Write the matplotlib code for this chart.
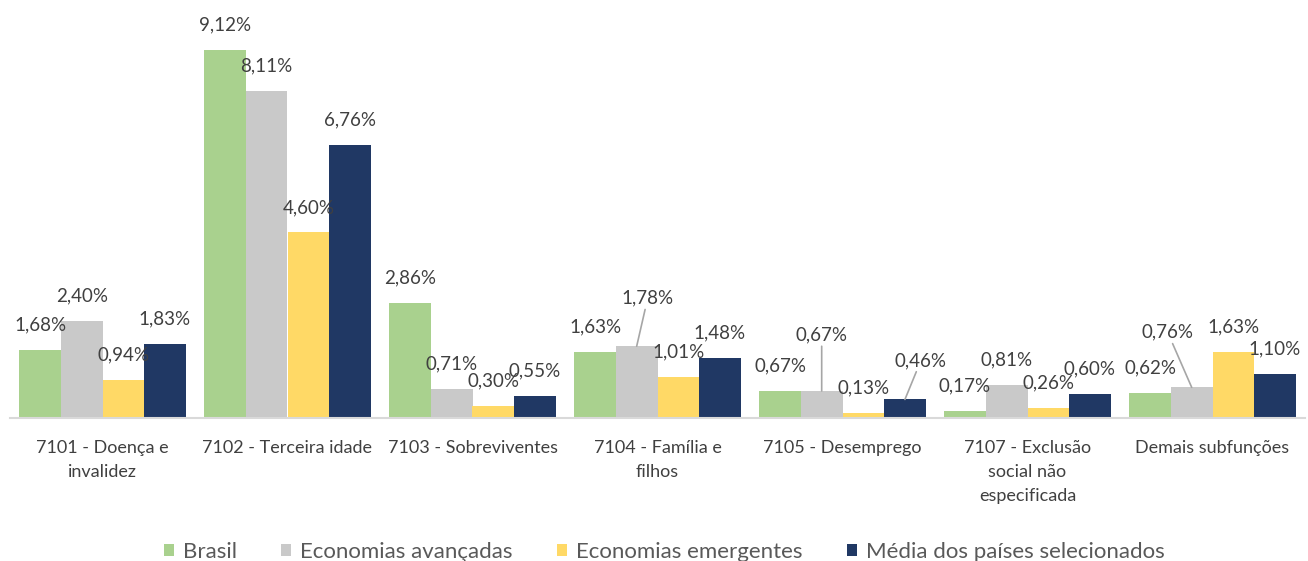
import matplotlib.pyplot as plt
import numpy as np

categorias = ['7101 - Doença e\ninvalidez', '7102 - Terceira idade', '7103 - Sobreviventes',
              '7104 - Família e\nfilhos', '7105 - Desemprego',
              '7107 - Exclusão\nsocial não\nespecificada', 'Demais subfunções']
series = ['Brasil', 'Economias avançadas', 'Economias emergentes', 'Média dos países selecionados']
brasil = [1.68, 9.12, 2.86, 1.63, 0.67, 0.17, 0.62]
avancadas = [2.40, 8.11, 0.71, 1.78, 0.67, 0.81, 0.76]
emergentes = [0.94, 4.60, 0.30, 1.01, 0.13, 0.26, 1.63]
media = [1.83, 6.76, 0.55, 1.48, 0.46, 0.60, 1.10]
cores = ['#a9d18e', '#c9c9c9', '#ffd966', '#203864']

# rótulos deslocados com linha de chamada: (série, categoria) -> (dx, dy) em pixels
deslocados = {(1, 3): (11, 48), (1, 4): (0, 56), (3, 4): (16, 39), (1, 6): (-24, 55)}

plt.rcParams['font.family'] = ['Lato', 'DejaVu Sans']

fig = plt.figure(figsize=(13.08, 5.61), dpi=100)
ax = fig.add_axes([10 / 1308, 1 - 418 / 561, 1295 / 1308, 413 / 561])

x = np.arange(len(categorias))
w = 0.225
for i, (nome, valores) in enumerate(zip(series, [brasil, avancadas, emergentes, media])):
    pos = x + (i - 1.5) * w
    ax.bar(pos, valores, width=w, color=cores[i], label=nome, zorder=2)
    for j, v in enumerate(valores):
        texto = f'{v:.2f}%'.replace('.', ',')
        if (i, j) in deslocados:
            dx, dy = deslocados[(i, j)]
            ax.annotate(texto, xy=(pos[j], v), xytext=(dx, dy), textcoords='offset pixels',
                        ha='center', va='center', fontsize=13.5, color='#404040',
                        arrowprops=dict(arrowstyle='-', color='#a6a6a6', lw=1.2,
                                        shrinkA=0, shrinkB=0))
        else:
            ax.annotate(texto, xy=(pos[j], v), xytext=(0, 25), textcoords='offset pixels',
                        ha='center', va='center', fontsize=13.5, color='#404040')

ax.set_xlim(-0.5, len(categorias) - 0.5)
ax.set_ylim(0, 10.24)
ax.set_yticks([])
ax.set_xticks(x)
ax.set_xticklabels(categorias, fontsize=13, color='#404040', linespacing=1.6)
ax.tick_params(axis='x', length=0, pad=16)
for lado in ['top', 'right', 'left']:
    ax.spines[lado].set_visible(False)
ax.spines['bottom'].set_color('#d9d9d9')
ax.spines['bottom'].set_linewidth(1.5)

fig.legend(loc='center', bbox_to_anchor=(0.508, 1 - 552 / 561), ncol=4, frameon=False,
           fontsize=16, labelcolor='#595959', handlelength=0.45, handleheight=0.45,
           handletextpad=0.4, columnspacing=2.0)

plt.savefig('out.png', dpi=100)
